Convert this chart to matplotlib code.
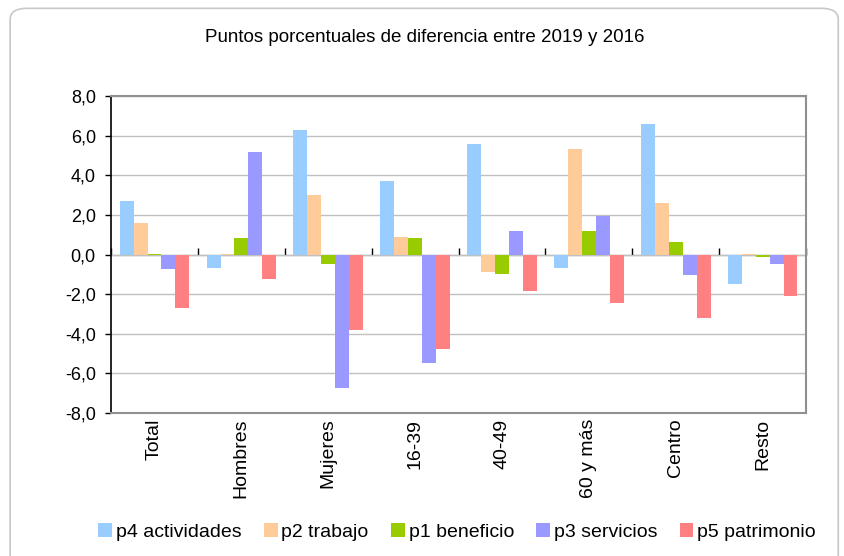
import numpy as np
import matplotlib
matplotlib.use('Agg')
import matplotlib.pyplot as plt
from matplotlib.patches import FancyBboxPatch

plt.rcParams['font.family'] = ['Liberation Sans', 'DejaVu Sans']

# data
categories = ['Total', 'Hombres', 'Mujeres', '16-39', '40-49', '60 y más', 'Centro', 'Resto']
series_names = ['p4 actividades', 'p2 trabajo', 'p1 beneficio', 'p3 servicios', 'p5 patrimonio']
p4_actividades = [2.7, -0.65, 6.3, 3.7, 5.6, -0.65, 6.6, -1.5]
p2_trabajo = [1.6, 0.05, 3.0, 0.9, -0.9, 5.35, 2.6, 0.05]
p1_beneficio = [0.05, 0.85, -0.45, 0.85, -1.0, 1.2, 0.65, -0.1]
p3_servicios = [-0.7, 5.2, -6.75, -5.45, 1.2, 1.95, -1.05, -0.45]
p5_patrimonio = [-2.7, -1.25, -3.8, -4.75, -1.85, -2.45, -3.2, -2.1]
y_ticks = [-8, -6, -4, -2, 0, 2, 4, 6, 8]

series = [p4_actividades, p2_trabajo, p1_beneficio, p3_servicios, p5_patrimonio]
colors = ['#99CCFF', '#FFCC99', '#99CC00', '#9999FF', '#FF8080']

fig = plt.figure(figsize=(8.45, 5.56), dpi=100)

# rounded outer frame
frame = FancyBboxPatch((0.012, -0.05), 0.98, 1.035, boxstyle='round,pad=0,rounding_size=0.02',
                       transform=fig.transFigure, facecolor='white', edgecolor='#c8c8c8',
                       linewidth=1.2, zorder=-10)
fig.patches.append(frame)

ax = fig.add_axes([0.1314, 0.257, 0.8226, 0.570])

x = np.arange(len(categories))
bar_w = 0.16
for i, (vals, name, col) in enumerate(zip(series, series_names, colors)):
  ax.bar(x + (i - 2) * bar_w, vals, width=bar_w, color=col, label=name, zorder=3)

ax.set_xlim(-0.5, len(categories) - 0.5)
ax.set_ylim(-8, 8)
ax.set_yticks(y_ticks)
ax.set_yticklabels([f'{v:.1f}'.replace('.', ',') for v in y_ticks], fontsize=13)
ax.yaxis.grid(True, color='#c0c0c0', linewidth=1, zorder=0)
ax.tick_params(axis='y', direction='out', length=4, width=1, color='black', pad=7)

ax.set_xticks(x)
ax.set_xticklabels(categories, rotation=90, fontsize=14)
ax.tick_params(axis='x', length=0, pad=4)

for side in ['top', 'right', 'bottom']:
  ax.spines[side].set_color('#909090')
  ax.spines[side].set_linewidth(1.5)
ax.spines['left'].set_color('black')
ax.spines['left'].set_linewidth(1.2)

# zero line with category separators
zero_ax = ax.secondary_xaxis(0.5)
zero_ax.set_xticks(np.arange(len(categories) + 1) - 0.5)
zero_ax.set_xticklabels([])
zero_ax.tick_params(direction='out', length=5, width=1, color='black')
zero_ax.spines['bottom'].set_color('black')
zero_ax.spines['bottom'].set_linewidth(1.2)
zero_ax.spines['bottom'].set_zorder(5)

fig.text(0.503, 0.932, 'Puntos porcentuales de diferencia entre 2019 y 2016',
         ha='center', va='center', fontsize=13.5)

fig.legend(loc='center', bbox_to_anchor=(0.541, 0.043), ncol=5, frameon=False,
           fontsize=14, handlelength=0.7, handleheight=0.7, handletextpad=0.2,
           columnspacing=1.15)

plt.savefig('out.png', dpi=100)
plt.close()
